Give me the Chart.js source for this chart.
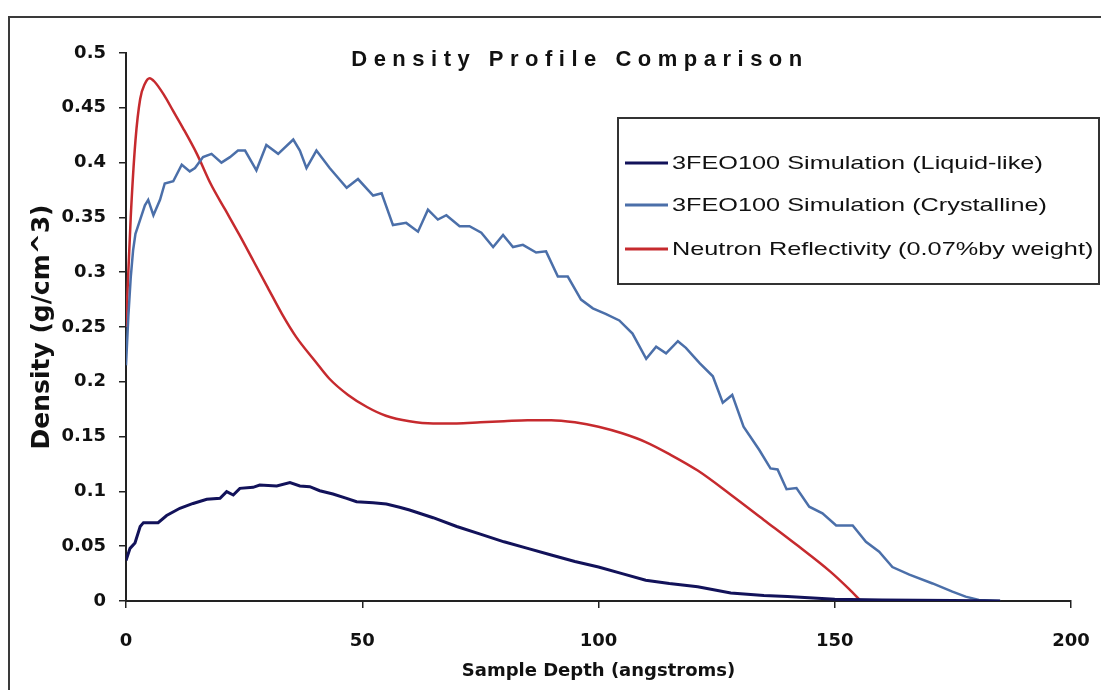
<!DOCTYPE html>
<html>
<head>
<meta charset="utf-8">
<script src="https://cdn.jsdelivr.net/npm/chart.js@4.4.1/dist/chart.umd.min.js"></script>
<style>
  html, body { margin: 0; padding: 0; background: #fff; }
  #wrap { width: 1101px; height: 690px; }
</style>
</head>
<body>
<div id="wrap"><canvas id="density" width="1101" height="690"></canvas></div>
<script>
const seriesLabels = [
  "3FEO100 Simulation (Liquid-like)",
  "3FEO100 Simulation (Crystalline)",
  "Neutron Reflectivity (0.07%by weight)"
];

// depth (angstroms) / density (g/cm^3)
const liquidDepth = [0, 0.85, 1.9, 3, 3.7, 6.8, 8.6, 11.4, 14.2, 17.1, 19.9, 21.3, 22.7, 24.1, 26.9, 28.3, 31.9, 34.7, 36.8, 38.9, 41, 43.8, 46.7, 48.8, 52.3, 55.1, 57.9, 60, 65, 70, 75, 80, 85, 90, 95, 100, 105, 110, 115, 121, 128, 135, 140, 150, 160, 175, 185];
const liquidDensity = [0.037, 0.048, 0.053, 0.068, 0.0715, 0.0715, 0.078, 0.0846, 0.089, 0.0928, 0.0937, 0.0998, 0.0967, 0.1028, 0.1037, 0.1058, 0.1049, 0.108, 0.1049, 0.1043, 0.1006, 0.0976, 0.0937, 0.0906, 0.0897, 0.0885, 0.0855, 0.083, 0.076, 0.068, 0.061, 0.054, 0.048, 0.042, 0.036, 0.031, 0.025, 0.019, 0.016, 0.013, 0.0073, 0.005, 0.004, 0.0015, 0.001, 0.0005, 0];

const crystalDepth = [0, 0.5, 1, 1.5, 2, 3, 4, 4.7, 5.8, 7.2, 8.2, 10, 11.8, 13.5, 14.6, 16.3, 18.1, 20.2, 22, 23.7, 25.2, 27.6, 29.7, 32.2, 35.4, 36.8, 38.2, 40.3, 43.1, 46.7, 49.1, 52.3, 54.1, 56.5, 59.3, 61.8, 63.9, 66, 67.8, 70.6, 72.7, 75.2, 77.7, 79.8, 81.9, 84, 86.8, 88.9, 91.4, 93.5, 96.3, 98.8, 101.5, 104.4, 107.2, 110.1, 112.2, 114.3, 116.8, 118.5, 121.4, 124.2, 126.3, 128.3, 130.7, 134, 136.4, 137.9, 139.8, 141.9, 144.6, 147.4, 150.3, 153.8, 156.6, 159.4, 162.2, 165.8, 170.7, 174.9, 177.7, 180.5, 185];
const crystalDensity = [0.215, 0.26, 0.295, 0.32, 0.335, 0.348, 0.361, 0.366, 0.352, 0.366, 0.381, 0.383, 0.398, 0.392, 0.395, 0.405, 0.408, 0.4, 0.405, 0.411, 0.411, 0.393, 0.416, 0.408, 0.421, 0.411, 0.395, 0.411, 0.395, 0.377, 0.385, 0.37, 0.372, 0.343, 0.345, 0.337, 0.357, 0.348, 0.352, 0.342, 0.342, 0.336, 0.323, 0.334, 0.323, 0.325, 0.318, 0.319, 0.296, 0.296, 0.275, 0.267, 0.262, 0.256, 0.244, 0.221, 0.232, 0.226, 0.237, 0.231, 0.217, 0.205, 0.181, 0.188, 0.159, 0.138, 0.121, 0.12, 0.102, 0.103, 0.086, 0.08, 0.069, 0.069, 0.054, 0.045, 0.031, 0.024, 0.016, 0.0085, 0.004, 0.001, 0];

const neutronDepth = [0, 1, 2, 3, 4, 5, 6, 8, 10, 12, 15, 18, 21, 24, 27, 30, 33, 36, 40, 43, 47, 51, 55, 60, 65, 70, 75, 80, 85, 90, 95, 100, 105, 110, 115, 121, 128, 135, 142, 149, 153, 155.5];
const neutronDensity = [0.25, 0.35, 0.42, 0.458, 0.472, 0.477, 0.474, 0.462, 0.447, 0.432, 0.408, 0.38, 0.357, 0.334, 0.31, 0.286, 0.262, 0.241, 0.219, 0.203, 0.188, 0.177, 0.169, 0.164, 0.162, 0.162, 0.163, 0.164, 0.165, 0.165, 0.163, 0.159, 0.153, 0.145, 0.134, 0.119, 0.097, 0.074, 0.051, 0.027, 0.011, 0];

const xTicks = [0, 50, 100, 150, 200];
const yTicks = [0, 0.05, 0.1, 0.15, 0.2, 0.25, 0.3, 0.35, 0.4, 0.45, 0.5];

const colors = ["#12125a", "#4b6fa9", "#c62a2e"];

function toPoints(xs, ys) {
  return xs.map((x, i) => ({ x: x, y: ys[i] }));
}

const tickFont = { family: "DejaVu Sans", size: 18, weight: "bold" };

// white page, outer frame, title and boxed legend drawn on the canvas
const framePlugin = {
  id: "frame",
  beforeDraw(chart) {
    const ctx = chart.ctx;
    ctx.save();
    ctx.fillStyle = "#fff";
    ctx.fillRect(0, 0, chart.width, chart.height);
    ctx.strokeStyle = "#3a3a3a";
    ctx.lineWidth = 2;
    ctx.strokeRect(9, 17, chart.width + 20, chart.height + 20);
    ctx.restore();
  },
  afterDraw(chart) {
    const ctx = chart.ctx;
    ctx.save();
    ctx.fillStyle = "#111";
    ctx.font = "bold 22px 'Liberation Sans'";
    ctx.letterSpacing = "6.5px";
    ctx.textAlign = "center";
    ctx.textBaseline = "middle";
    ctx.fillText("Density Profile Comparison", 580, 60);
    ctx.letterSpacing = "0px";

    const box = { left: 618, top: 118, right: 1099, bottom: 284 };
    ctx.strokeStyle = "#333";
    ctx.lineWidth = 2;
    ctx.strokeRect(box.left, box.top, box.right - box.left, box.bottom - box.top);

    const rows = [163, 205, 249];
    chart.data.datasets.forEach((ds, i) => {
      const y = rows[i];
      ctx.strokeStyle = ds.borderColor;
      ctx.lineWidth = 3;
      ctx.beginPath();
      ctx.moveTo(625, y);
      ctx.lineTo(668, y);
      ctx.stroke();
      ctx.save();
      ctx.translate(672, y);
      ctx.scale(1.33, 1);
      ctx.fillStyle = "#111";
      ctx.font = "19px 'Liberation Sans'";
      ctx.textAlign = "left";
      ctx.textBaseline = "middle";
      ctx.fillText(ds.label, 0, 1);
      ctx.restore();
    });
    ctx.restore();
  }
};

new Chart(document.getElementById("density"), {
  type: "line",
  data: {
    datasets: [
      {
        label: seriesLabels[0],
        data: toPoints(liquidDepth, liquidDensity),
        borderColor: colors[0],
        borderWidth: 3,
        tension: 0
      },
      {
        label: seriesLabels[1],
        data: toPoints(crystalDepth, crystalDensity),
        borderColor: colors[1],
        borderWidth: 2.5,
        tension: 0
      },
      {
        label: seriesLabels[2],
        data: toPoints(neutronDepth, neutronDensity),
        borderColor: colors[2],
        borderWidth: 2.5,
        cubicInterpolationMode: "monotone"
      }
    ]
  },
  options: {
    responsive: false,
    animation: false,
    parsing: false,
    elements: { point: { radius: 0 } },
    layout: { padding: { left: 0, right: 30, top: 53, bottom: 0 } },
    plugins: {
      legend: { display: false },
      title: { display: false },
      tooltip: { enabled: false }
    },
    scales: {
      x: {
        type: "linear",
        min: 0,
        max: 200,
        afterBuildTicks: (scale) => { scale.ticks = xTicks.map(v => ({ value: v })); },
        afterFit: (scale) => {
          scale.height = 89;
          scale.paddingLeft = 0;
          scale.paddingRight = 0;
        },
        ticks: { color: "#111", font: tickFont, padding: 23, maxRotation: 0 },
        grid: { drawOnChartArea: false, drawTicks: true, tickLength: 7, color: "#222", lineWidth: 1.5 },
        border: { display: true, color: "#222", width: 2 },
        title: {
          display: true,
          text: "Sample Depth (angstroms)",
          color: "#111",
          font: tickFont,
          padding: { top: 0, bottom: 8 }
        }
      },
      y: {
        type: "linear",
        min: 0,
        max: 0.5,
        afterBuildTicks: (scale) => { scale.ticks = yTicks.map(v => ({ value: v })); },
        afterFit: (scale) => { scale.width = 126; },
        ticks: {
          color: "#111",
          font: tickFont,
          padding: 13,
          callback: (v) => String(Number(v.toFixed(2)))
        },
        grid: { drawOnChartArea: false, drawTicks: true, tickLength: 7, color: "#222", lineWidth: 1.5 },
        border: { display: true, color: "#222", width: 2 },
        title: {
          display: true,
          text: "Density (g/cm^3)",
          color: "#111",
          font: { family: "DejaVu Sans", size: 25, weight: "bold" },
          padding: { top: 27, bottom: 0 }
        }
      }
    }
  },
  plugins: [framePlugin]
});
</script>
</body>
</html>
